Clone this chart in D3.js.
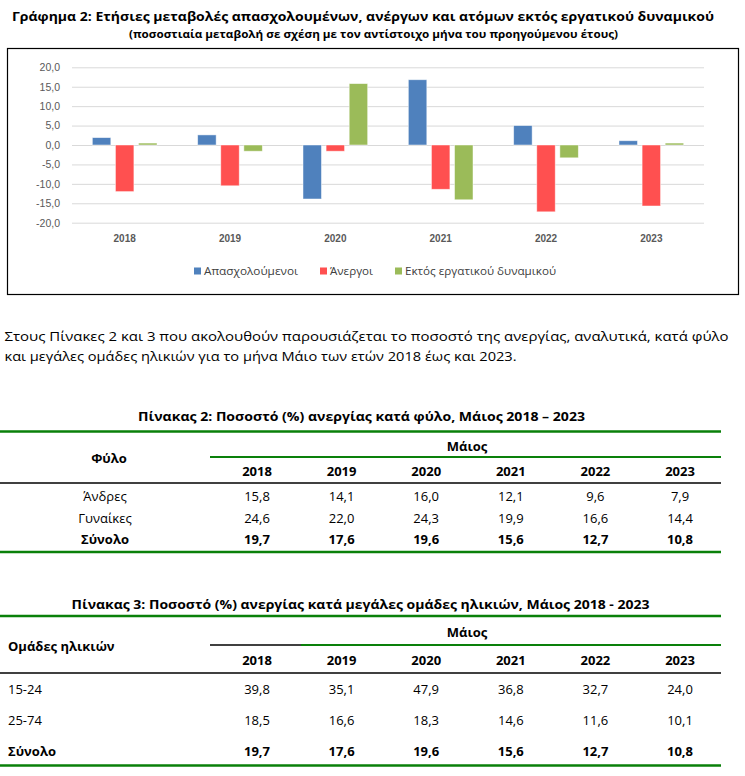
<!DOCTYPE html>
<html>
<head>
<meta charset="utf-8">
<script src="https://cdn.jsdelivr.net/npm/d3@7"></script>
<style>
  body { margin: 0; background: #fff; }
  svg { display: block; font-family: "Open Sans", sans-serif; }
  .grid line { stroke: #d9d9d9; }
  .grid text { fill: #595959; font-size: 10.5px; }
  .xaxis text { fill: #595959; font-size: 10px; font-weight: bold; }
</style>
</head>
<body>
<div id="page"></div>
<script>
// Chart data
var years = ["2018", "2019", "2020", "2021", "2022", "2023"];
var seriesNames = ["Απασχολούμενοι", "Άνεργοι", "Εκτός εργατικού δυναμικού"];
var employed = [1.9, 2.6, -13.9, 16.8, 5.0, 1.1];
var unemployed = [-12.0, -10.5, -1.6, -11.4, -17.2, -15.7];
var outsideLabour = [0.5, -1.6, 15.8, -14.1, -3.3, 0.5];
var yTicks = [-20, -15, -10, -5, 0, 5, 10, 15, 20];

// Table data
var sexLabels = ["Άνδρες", "Γυναίκες", "Σύνολο"];
var men = [15.8, 14.1, 16.0, 12.1, 9.6, 7.9];
var women = [24.6, 22.0, 24.3, 19.9, 16.6, 14.4];
var totals = [19.7, 17.6, 19.6, 15.6, 12.7, 10.8];
var ageLabels = ["15-24", "25-74", "Σύνολο"];
var age1524 = [39.8, 35.1, 47.9, 36.8, 32.7, 24.0];
var age2574 = [18.5, 16.6, 18.3, 14.6, 11.6, 10.1];

var colors = ["#4f81bd", "#ff5050", "#9bbb59"];
var tableGreen = "#0a800a";

var locale = d3.formatLocale({decimal: ",", thousands: ".", grouping: [3], currency: ["", "€"], minus: "-"});
var fmt = locale.format(".1f");

var svg = d3.select("#page").append("svg")
  .attr("width", 745)
  .attr("height", 776);

svg.append("rect").attr("width", 745).attr("height", 776).attr("fill", "#fff");

function txt(x, y, s, o) {
  o = o || {};
  var t = svg.append("text")
    .attr("x", x).attr("y", y)
    .attr("font-size", o.size || 13)
    .attr("font-weight", o.bold ? "bold" : "normal")
    .attr("text-anchor", o.anchor || "start")
    .attr("fill", o.fill || "#000")
    .text(s);
  if (o.len) t.attr("textLength", o.len).attr("lengthAdjust", "spacingAndGlyphs");
  return t;
}

// Titles
txt(12, 21, "Γράφημα 2: Ετήσιες μεταβολές απασχολουμένων, ανέργων και ατόμων εκτός εργατικού δυναμικού", {bold: true, size: 13, len: 702});
txt(129, 38, "(ποσοστιαία μεταβολή σε σχέση με τον αντίστοιχο μήνα του προηγούμενου έτους)", {bold: true, size: 11, len: 489});

// Chart frame
svg.append("rect")
  .attr("x", 7.5).attr("y", 48.5)
  .attr("width", 731).attr("height", 246)
  .attr("fill", "none").attr("stroke", "#000").attr("stroke-width", 1.2);

var x0 = d3.scaleBand().domain(years).range([72, 704]);
var x1 = d3.scaleBand().domain(seriesNames)
  .range([x0.bandwidth() * 0.193, x0.bandwidth() * 0.807])
  .paddingInner(0.2);
var y = d3.scaleLinear().domain([-20, 20]).range([222.7, 67.3]);

var gridAxis = d3.axisLeft(y)
  .tickValues(yTicks)
  .tickSize(-(704 - 72))
  .tickPadding(12)
  .tickFormat(fmt);

svg.append("g")
  .attr("class", "grid")
  .attr("transform", "translate(72,0)")
  .call(gridAxis)
  .call(function(g) { g.select(".domain").remove(); });

var seriesValues = [employed, unemployed, outsideLabour];
var rows = years.map(function(yr, i) {
  return {year: yr, values: seriesNames.map(function(s, j) { return {key: s, value: seriesValues[j][i], color: colors[j]}; })};
});

var group = svg.selectAll(".year")
  .data(rows)
  .enter().append("g")
    .attr("class", "year")
    .attr("transform", function(d) { return "translate(" + x0(d.year) + ",0)"; });

group.selectAll("rect")
  .data(function(d) { return d.values; })
  .enter().append("rect")
    .attr("x", function(d) { return x1(d.key); })
    .attr("y", function(d) { return y(Math.max(0, d.value)); })
    .attr("width", x1.bandwidth())
    .attr("height", function(d) { return Math.abs(y(d.value) - y(0)); })
    .attr("fill", function(d) { return d.color; })
    .attr("stroke", "#fff")
    .attr("stroke-opacity", 0.6)
    .attr("stroke-width", 0.8);

svg.append("g")
  .attr("class", "xaxis")
  .attr("transform", "translate(0," + y(-20) + ")")
  .call(d3.axisBottom(x0).tickSize(0).tickPadding(12.5))
  .call(function(g) { g.select(".domain").remove(); });

// Legend
var legendX = [194, 320, 395];
var legendLen = [94, 43, 151];
seriesNames.forEach(function(s, i) {
  svg.append("rect")
    .attr("x", legendX[i]).attr("y", 267.5)
    .attr("width", 7).attr("height", 7)
    .attr("fill", colors[i]);
  txt(legendX[i] + 10, 275, s, {size: 11, fill: "#404040", len: legendLen[i]});
});

// Paragraph
txt(4.5, 340.5, "Στους Πίνακες 2 και 3 που ακολουθούν παρουσιάζεται το ποσοστό της ανεργίας, αναλυτικά, κατά φύλο", {size: 13.5, len: 724});
txt(4.5, 361, "και μεγάλες ομάδες ηλικιών για το μήνα Μάιο των ετών 2018 έως και 2023.", {size: 13.5, len: 512});

// Tables
var col = d3.scalePoint().domain(years).range([257, 680]);

function hline(x1p, x2p, yp, color, w) {
  svg.append("line")
    .attr("x1", x1p).attr("x2", x2p)
    .attr("y1", yp).attr("y2", yp)
    .attr("stroke", color).attr("stroke-width", w);
}

function drawTable(top, cfg) {
  txt(cfg.titleX, top.title, cfg.title, {bold: true, size: 13, len: cfg.titleLen});
  hline(0, 721, top.line1, tableGreen, 2.6);
  txt(467, top.maios, "Μάιος", {bold: true, size: 13, anchor: "middle"});
  cfg.subLine(top.line2);
  txt(cfg.headX, top.head, cfg.head, {bold: true, size: 13, anchor: cfg.headAnchor});
  years.forEach(function(yr) {
    txt(col(yr), top.years, yr, {bold: true, size: 13, anchor: "middle"});
  });
  hline(0, 721, top.line3, "#000", 1.6);
  cfg.rows.forEach(function(r, i) {
    var bold = i === cfg.rows.length - 1;
    txt(cfg.labelX, top.rows[i], cfg.labels[i], {bold: bold, size: 13, anchor: cfg.labelAnchor});
    r.forEach(function(v, j) {
      txt(col(years[j]), top.rows[i], fmt(v), {bold: bold, size: 13, anchor: "middle"});
    });
  });
  hline(0, 721, top.line4, tableGreen, 2.6);
}

drawTable(
  {title: 420.5, line1: 431.5, maios: 450.5, line2: 457, head: 463, years: 475.5, line3: 483, rows: [500.7, 522.5, 544], line4: 552},
  {
    title: "Πίνακας 2: Ποσοστό (%) ανεργίας κατά φύλο, Μάιος 2018 – 2023", titleX: 138, titleLen: 447,
    head: "Φύλο", headX: 109, headAnchor: "middle",
    labels: sexLabels, labelX: 105, labelAnchor: "middle",
    rows: [men, women, totals],
    subLine: function(yp) { hline(210, 721, yp, tableGreen, 2.2); }
  }
);

drawTable(
  {title: 609, line1: 616, maios: 637, line2: 645, head: 651, years: 665.3, line3: 673, rows: [694.3, 725, 755.7], line4: 765.5},
  {
    title: "Πίνακας 3: Ποσοστό (%) ανεργίας κατά μεγάλες ομάδες ηλικιών, Μάιος 2018 - 2023", titleX: 71.5, titleLen: 578,
    head: "Ομάδες ηλικιών", headX: 8, headAnchor: "start",
    labels: ageLabels, labelX: 8, labelAnchor: "start",
    rows: [age1524, age2574, totals],
    subLine: function(yp) {
      hline(210, 301, yp, "#000", 1.4);
      hline(301, 721, yp, tableGreen, 2.2);
    }
  }
);
</script>
</body>
</html>
